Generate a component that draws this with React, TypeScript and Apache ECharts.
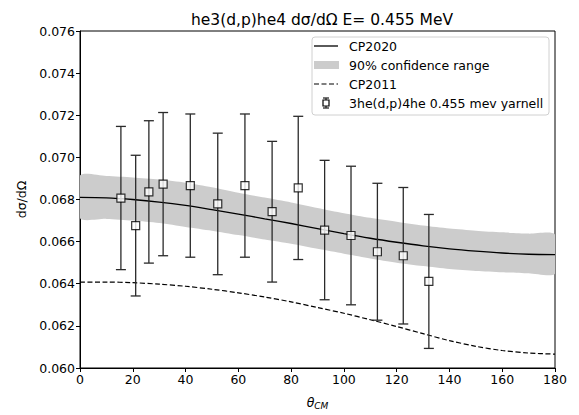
import React, { useEffect, useRef } from "react";
import * as echarts from "echarts";

const curveAngles = [0, 10, 20, 30, 40, 50, 60, 70, 80, 90, 100, 110, 120, 130, 140, 150, 160, 170, 180];
const cp2020 = [0.0681, 0.06808, 0.068, 0.06788, 0.06772, 0.06752, 0.06731, 0.06708, 0.06686, 0.06662, 0.06638, 0.06616, 0.06597, 0.0658, 0.06566, 0.06555, 0.06546, 0.0654, 0.06538];
const bandUpper = [0.06914, 0.06912, 0.06905, 0.06895, 0.0688, 0.06858, 0.06832, 0.06809, 0.06786, 0.0676, 0.06735, 0.06713, 0.06694, 0.06676, 0.06662, 0.06652, 0.06644, 0.06638, 0.06634];
const bandLower = [0.06711, 0.06708, 0.067, 0.06688, 0.0667, 0.06652, 0.06631, 0.0661, 0.0659, 0.06566, 0.06543, 0.0652, 0.065, 0.06484, 0.0647, 0.06461, 0.06455, 0.0645, 0.06448];
const cp2011 = [0.06408, 0.06408, 0.06405, 0.06398, 0.06388, 0.06374, 0.06357, 0.06337, 0.06314, 0.06287, 0.0626, 0.06229, 0.06197, 0.06163, 0.0613, 0.06103, 0.06083, 0.06071, 0.06066];

const expAngles = [15.5, 21.1, 26.1, 31.5, 41.8, 52.2, 62.5, 72.8, 82.7, 92.7, 102.7, 112.7, 122.5, 132.2];
const expValues = [0.06807, 0.06676, 0.06836, 0.06873, 0.06866, 0.06779, 0.06866, 0.06742, 0.06855, 0.06655, 0.06629, 0.06552, 0.06533, 0.06411];
const expErrors = [0.0034, 0.00334, 0.00338, 0.0034, 0.0034, 0.00336, 0.0034, 0.00334, 0.0034, 0.00331, 0.00329, 0.00325, 0.00324, 0.00318];

const titleText = "he3(d,p)he4 dσ/dΩ E= 0.455 MeV";
const legendLabels = ["CP2020", "90% confidence range", "CP2011", "3he(d,p)4he 0.455 mev yarnell"];

const FONT = "DejaVu Sans";

export default function App() {
  const ref = useRef<HTMLDivElement>(null);
  useEffect(() => {
    if (!ref.current) return;
    const chart = echarts.init(ref.current, null, { renderer: "svg" });
    const bandData = curveAngles.map((a, i) => [a, bandLower[i], bandUpper[i]]);
    const errData = expAngles.map((a, i) => [a, expValues[i] - expErrors[i], expValues[i] + expErrors[i]]);

    const lx = 313;
    const ly = 37;
    const rows = [46, 65, 84, 103];

    chart.setOption({
      animation: false,
      textStyle: { fontFamily: FONT },
      title: {
        text: titleText,
        left: 317,
        textAlign: "center",
        top: 7,
        textStyle: { fontFamily: FONT, fontSize: 15.5, fontWeight: "normal", color: "#000" },
      },
      grid: { left: 80, right: 24, top: 31, bottom: 39, show: true, borderColor: "#000", borderWidth: 1, backgroundColor: "transparent" },
      xAxis: {
        type: "value",
        min: 0,
        max: 180,
        interval: 20,
        splitLine: { show: false },
        axisLine: { show: true, lineStyle: { color: "#000", width: 1 } },
        axisTick: { show: true, inside: false, length: 4, lineStyle: { color: "#000" } },
        axisLabel: { color: "#000", fontSize: 12.5, fontFamily: FONT, margin: 5 },
        name: "{a|θ}{b|CM}",
        nameLocation: "middle",
        nameGap: 27,
        nameTextStyle: {
          rich: {
            a: { fontFamily: FONT, fontStyle: "italic", fontSize: 12.5, color: "#000" },
            b: { fontFamily: FONT, fontStyle: "italic", fontSize: 9, color: "#000", verticalAlign: "bottom", padding: [6, 0, 0, 0] },
          },
        },
      },
      yAxis: {
        type: "value",
        min: 0.06,
        max: 0.076,
        interval: 0.002,
        splitLine: { show: false },
        axisLine: { show: true, lineStyle: { color: "#000", width: 1 } },
        axisTick: { show: true, inside: false, length: 4, lineStyle: { color: "#000" } },
        axisLabel: { color: "#000", fontSize: 12.5, fontFamily: FONT, margin: 5, formatter: (v: number) => v.toFixed(3) },
        name: "dσ/dΩ",
        nameLocation: "middle",
        nameRotate: 90,
        nameGap: 52,
        nameTextStyle: { color: "#000", fontSize: 12.5, fontFamily: FONT },
      },
      series: [
        {
          type: "custom",
          name: "band",
          data: bandData,
          clip: true,
          renderItem: (params: any, api: any) => {
            if (params.dataIndex !== 0) return null;
            const up: number[][] = [];
            const lo: number[][] = [];
            for (let i = 0; i < bandData.length; i++) {
              up.push(api.coord([bandData[i][0], bandData[i][2]]));
              lo.push(api.coord([bandData[i][0], bandData[i][1]]));
            }
            const pts = up.concat(lo.reverse());
            return { type: "polygon", shape: { points: pts, smooth: 0.25 }, style: { fill: "#cccccc", stroke: "none" } };
          },
          z: 1,
        },
        {
          type: "line",
          name: "CP2020",
          data: curveAngles.map((a, i) => [a, cp2020[i]]),
          smooth: 0.3,
          showSymbol: false,
          lineStyle: { color: "#000", width: 1.3 },
          z: 2,
        },
        {
          type: "line",
          name: "CP2011",
          data: curveAngles.map((a, i) => [a, cp2011[i]]),
          smooth: 0.3,
          showSymbol: false,
          lineStyle: { color: "#000", width: 1.2, type: [5, 2.5] },
          z: 2,
        },
        {
          type: "custom",
          name: "errors",
          data: errData,
          renderItem: (params: any, api: any) => {
            const x = api.value(0);
            const p1 = api.coord([x, api.value(1)]);
            const p2 = api.coord([x, api.value(2)]);
            const cap = 5;
            const st = { stroke: "#2a2a2a", lineWidth: 1.3 };
            return {
              type: "group",
              children: [
                { type: "line", shape: { x1: p1[0], y1: p1[1], x2: p2[0], y2: p2[1] }, style: st },
                { type: "line", shape: { x1: p1[0] - cap, y1: p1[1], x2: p1[0] + cap, y2: p1[1] }, style: st },
                { type: "line", shape: { x1: p2[0] - cap, y1: p2[1], x2: p2[0] + cap, y2: p2[1] }, style: st },
              ],
            };
          },
          z: 3,
        },
        {
          type: "scatter",
          name: "exp",
          data: expAngles.map((a, i) => [a, expValues[i]]),
          symbol: "rect",
          symbolSize: 8,
          itemStyle: { color: "#fff", borderColor: "#000", borderWidth: 1.2 },
          z: 4,
        },
      ],
      graphic: [
        {
          type: "rect",
          shape: { x: lx - 1, y: ly, width: 237, height: 78, r: 3 },
          style: { fill: "rgba(255,255,255,0.8)", stroke: "#d0d0d0", lineWidth: 1 },
          z: 10,
        },
        { type: "line", shape: { x1: lx + 1, y1: rows[0], x2: lx + 25, y2: rows[0] }, style: { stroke: "#000", lineWidth: 1.3 }, z: 11 },
        { type: "rect", shape: { x: lx + 1, y: rows[1] - 4, width: 25, height: 8 }, style: { fill: "#cccccc" }, z: 11 },
        { type: "line", shape: { x1: lx + 1, y1: rows[2], x2: lx + 25, y2: rows[2] }, style: { stroke: "#000", lineWidth: 1.2, lineDash: [5, 2.5] }, z: 11 },
        { type: "line", shape: { x1: lx + 13, y1: rows[3] - 5, x2: lx + 13, y2: rows[3] + 5 }, style: { stroke: "#2a2a2a", lineWidth: 1.3 }, z: 11 },
        { type: "line", shape: { x1: lx + 10, y1: rows[3] - 5, x2: lx + 16, y2: rows[3] - 5 }, style: { stroke: "#2a2a2a", lineWidth: 1.3 }, z: 11 },
        { type: "line", shape: { x1: lx + 10, y1: rows[3] + 5, x2: lx + 16, y2: rows[3] + 5 }, style: { stroke: "#2a2a2a", lineWidth: 1.3 }, z: 11 },
        { type: "rect", shape: { x: lx + 10, y: rows[3] - 3, width: 6, height: 6 }, style: { fill: "#fff", stroke: "#000", lineWidth: 1.2 }, z: 12 },
        ...legendLabels.map((t, i) => ({
          type: "text",
          x: lx + 36,
          y: rows[i],
          style: { text: t, fill: "#000", fontSize: 12.5, fontFamily: FONT, verticalAlign: "middle", align: "left" },
          z: 12,
        })),
      ],
    });
    return () => chart.dispose();
  }, []);
  return <div ref={ref} style={{ width: 579, height: 415, position: "absolute", left: 0, top: 0, background: "#fff" }} />;
}
